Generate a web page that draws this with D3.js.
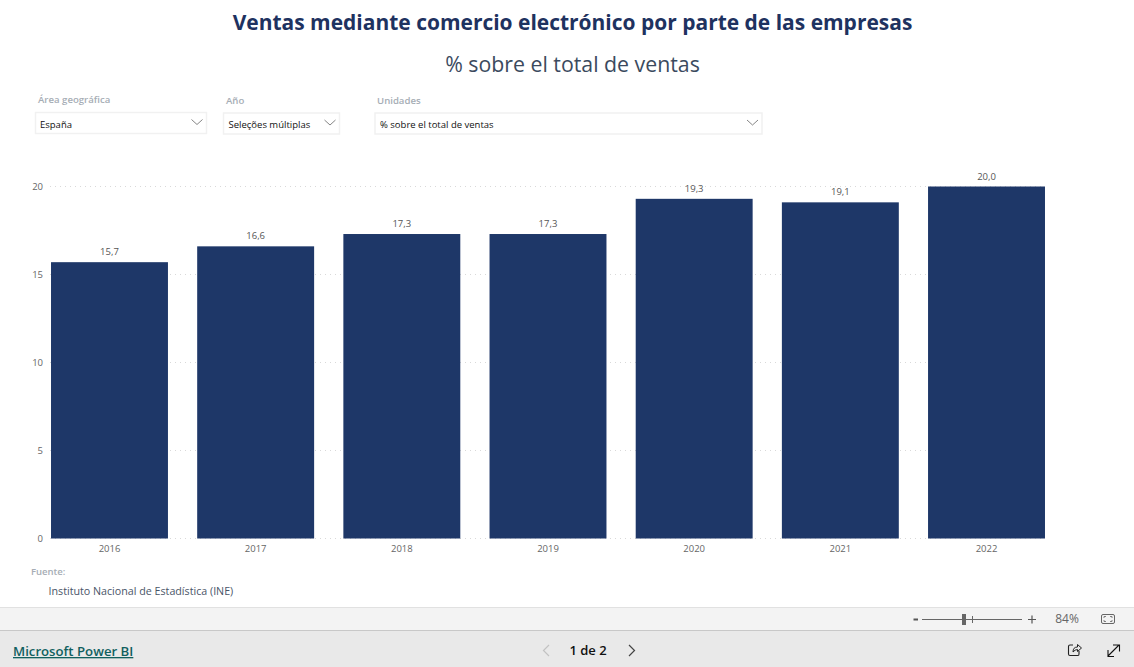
<!DOCTYPE html>
<html><head><meta charset="utf-8">
<script src="https://cdn.jsdelivr.net/npm/d3@7"></script>
<style>html,body{margin:0;padding:0;background:#fff;overflow:hidden}svg{display:block}text{font-family:"Open Sans",sans-serif}</style>
</head><body><svg id="c" width="1134" height="667"></svg>
<script>
const years=["2016","2017","2018","2019","2020","2021","2022"];
const values=[15.7,16.6,17.3,17.3,19.3,19.1,20.0];
const yTicks=[0,5,10,15,20];
const title="Ventas mediante comercio electrónico por parte de las empresas";
const subtitle="% sobre el total de ventas";
const slicers=[
 {label:"Área geográfica",value:"España",lx:38,ly:103,x:35.5,y:112.5,w:171,h:21},
 {label:"Año",value:"Seleções múltiplas",lx:226,ly:104,x:223.5,y:113,w:116,h:21},
 {label:"Unidades",value:"% sobre el total de ventas",lx:377,ly:104,x:375,y:113,w:387,h:21}];
const navy="#1e3768";
const svg=d3.select("#c");
const x=d3.scaleBand().domain(years).range([36.4,1059.6]).paddingInner(0.2).paddingOuter(0.1);
const y=d3.scaleLinear().domain([0,20]).range([538.5,186.5]);
const T=(s,px,py,size,fill,anchor="start",weight=400)=>svg.append("text").attr("x",px).attr("y",py).attr("font-size",size).attr("fill",fill).attr("text-anchor",anchor).attr("font-weight",weight).text(s);

T(title,572.5,30,20.98,"#1e3260","middle",700);
T(subtitle,572.5,71.5,21.3,"#3b4a5e","middle");

slicers.forEach(s=>{
 T(s.label,s.lx,s.ly,9.6,"#a6adb5","start",600);
 svg.append("rect").attr("x",s.x).attr("y",s.y).attr("width",s.w).attr("height",s.h).attr("fill","#fff").attr("stroke","#f1f1f1").attr("stroke-width",1.5);
 T(s.value,s.x+(s.lx===38?4.5:5),s.y+15,9.5,"#111");
 const ax=s.x+s.w-9.5,ay=s.y+7;
 svg.append("path").attr("d",d3.line()([[ax-5.5,ay],[ax,ay+5],[ax+5.5,ay]])).attr("fill","none").attr("stroke","#777").attr("stroke-width",0.9);
});

// grid
svg.append("g").selectAll("line").data(yTicks).join("line")
 .attr("x1",50).attr("x2",1045).attr("y1",d=>y(d)).attr("y2",d=>y(d))
 .attr("stroke","#d9d9d9").attr("stroke-dasharray","1 4");
// y axis
const gy=svg.append("g").attr("transform","translate(43,0)").call(d3.axisLeft(y).tickValues(yTicks).tickSize(0).tickPadding(0));
gy.select(".domain").remove();
gy.selectAll("text").attr("font-size",9.5).attr("fill","#666").style("font-family",'"Open Sans",sans-serif');
// x axis
const gx=svg.append("g").attr("transform","translate(0,538.5)").call(d3.axisBottom(x).tickSize(0).tickPadding(7));
gx.select(".domain").remove();
gx.selectAll("text").attr("font-size",9.5).attr("fill","#666").style("font-family",'"Open Sans",sans-serif');
// bars
svg.append("g").selectAll("rect").data(years).join("rect")
 .attr("x",d=>x(d)).attr("width",x.bandwidth())
 .attr("y",(d,i)=>y(values[i])).attr("height",(d,i)=>y(0)-y(values[i]))
 .attr("fill",navy);
// labels
const fmt=v=>v.toFixed(1).replace(".",",");
svg.append("g").selectAll("text").data(years).join("text")
 .attr("x",d=>x(d)+x.bandwidth()/2).attr("y",(d,i)=>y(values[i])-7)
 .attr("text-anchor","middle").attr("font-size",9.5).attr("fill","#555")
 .text((d,i)=>fmt(values[i]));

T("Fuente:",31,575,9.5,"#a6adb5","start",600);
T("Instituto Nacional de Estadística (INE)",48.5,595,10.7,"#4a5568");

// footer bars
svg.append("rect").attr("x",0).attr("y",607).attr("width",1134).attr("height",24).attr("fill","#f3f3f3");
svg.append("line").attr("x1",0).attr("x2",1134).attr("y1",607.5).attr("y2",607.5).attr("stroke","#e1e1e1");
svg.append("rect").attr("x",0).attr("y",631).attr("width",1134).attr("height",36).attr("fill","#e9e9e9");
svg.append("line").attr("x1",0).attr("x2",1134).attr("y1",630.5).attr("y2",630.5).attr("stroke","#c8c8c8");
T("Microsoft Power BI",13,656,13.2,"#11605f","start",600).attr("text-decoration","underline");
T("1 de 2",588,655,13,"#111","middle",600);
const P=(d,c,w=1.2,f="none")=>svg.append("path").attr("d",d).attr("fill",f).attr("stroke",c).attr("stroke-width",w);
P("M549,645L543.5,650.5L549,656","#c2c2c2");
P("M629,645L634.5,650.5L629,656","#444");
// zoom
P("M913.5,619.5H918","#555",2);
P("M922,619.5H1022","#666",1);
svg.append("rect").attr("x",962).attr("y",614).attr("width",4).attr("height",11).attr("fill","#666");
P("M972.5,616V623","#666",1);
P("M1028,619.5H1036M1032,615.5V623.5","#555",1.2);
T("84%",1067,623,12,"#666","middle");
svg.append("rect").attr("x",1101.5).attr("y",614.5).attr("width",13).attr("height",9).attr("rx",1.5).attr("fill","none").attr("stroke","#666");
P("M1104,618V616.5H1106M1112,618V616.5H1110M1104,620V621.5H1106M1112,620V621.5H1110","#666",0.8);
// share + expand
P("M1073,645H1070Q1068.5,645 1068.5,646.5V654Q1068.5,655.5 1070,655.5H1078Q1079,655.5 1079,654V651","#222",1.1);
P("M1073,652Q1073,647 1077.5,647V644.5L1081.5,648L1077.5,651.5V649.5Q1075,649.5 1073,652Z","#222",1);
P("M1108,656L1119,645M1113,645H1119.5V651.5M1108,650V656.5H1114","#111",1.1);
</script></body></html>
